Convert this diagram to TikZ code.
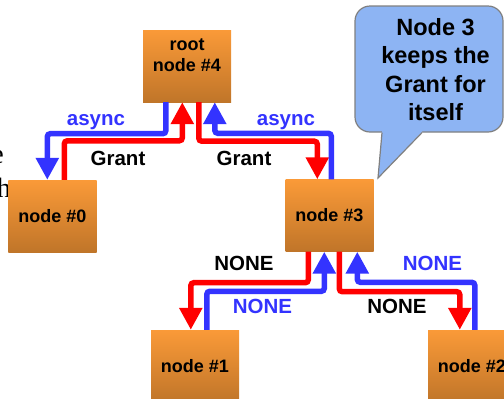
\documentclass[tikz,border=0pt]{standalone}
\usepackage{fontspec}
\setmainfont{Liberation Sans}
\newfontfamily\bgserif{Liberation Serif}
\usetikzlibrary{arrows.meta}
\definecolor{boxtop}{RGB}{250,154,56}
\definecolor{boxbot}{RGB}{192,117,41}
\definecolor{flowblue}{RGB}{51,51,255}
\definecolor{flowred}{RGB}{255,0,0}
\definecolor{notefill}{RGB}{141,180,243}
\definecolor{noteline}{RGB}{128,128,128}
\begin{document}
\begin{tikzpicture}[x=1bp,y=-1bp,
  boxtext/.style={font=\fontsize{18bp}{21bp}\selectfont\bfseries,align=center},
  procbox/.style={minimum width=88bp,minimum height=72bp,inner sep=0pt,
    top color=boxtop,bottom color=boxbot,boxtext},
  flow/.style={line width=5.5bp,rounded corners=3bp,
    -{Triangle[width=22bp,length=22bp]}},
  asyncflow/.style={flow,draw=flowblue},
  grantflow/.style={flow,draw=flowred},
  lbl/.style={font=\fontsize{20.5bp}{24bp}\selectfont\bfseries,anchor=base,inner sep=0pt},
  bgtext/.style={font=\bgserif\fontsize{28bp}{32bp}\selectfont,anchor=base east,inner sep=0pt},
]
\useasboundingbox (0,0) rectangle (504,398);
\clip (0,0) rectangle (504,398);

% text of the slide behind the diagram
\node[bgtext] (bga) at (4,163) {e};
\node[bgtext] (bgb) at (11,197) {h};

% processes
\node[procbox] (n4) at (187,66) {};
\node[boxtext,inner sep=0pt] (n4label) at (187,55.5) {root\\node \#4};
\node[procbox] (n0) at (52.5,216) {node \#0};
\node[procbox] (n3) at (329.5,215.5) {node \#3};
\node[procbox] (n1) at (195,366) {node \#1};
\node[procbox] (n2) at (472,366) {node \#2};

% root <-> node 0
\draw[asyncflow] ([xshift=23bp]n4.south west) -- ++(0,31.5) -| ([xshift=39bp]n0.north west);
\draw[grantflow] ([xshift=56bp]n0.north west) -- ++(0,-39) -| ([xshift=39.5bp]n4.south west);
% root <-> node 3
\draw[grantflow] ([xshift=56bp]n4.south west) -- ++(0,39) -| ([xshift=32bp]n3.north west);
\draw[asyncflow] ([xshift=46bp]n3.north west) -- ++(0,-46) -| ([xshift=72bp]n4.south west);
% node 3 <-> node 1
\draw[grantflow] ([xshift=23bp]n3.south west) -- ++(0,31) -| ([xshift=40bp]n1.north west);
\draw[asyncflow] ([xshift=56bp]n1.north west) -- ++(0,-38.5) -| ([xshift=39bp]n3.south west);
% node 3 <-> node 2
\draw[grantflow] ([xshift=54bp]n3.south west) -- ++(0,40) -| ([xshift=32bp]n2.north west);
\draw[asyncflow] ([xshift=47bp]n2.north west) -- ++(0,-47.5) -| ([xshift=72bp]n3.south west);

% flow labels
\node[lbl,text=flowblue] (a0) at (96,125) {async};
\node[lbl] (g0) at (118,165) {Grant};
\node[lbl] (g3) at (244,165) {Grant};
\node[lbl,text=flowblue] (a3) at (286,125) {async};
\node[lbl] (k1) at (244,270) {NONE};
\node[lbl,text=flowblue] (k2) at (262.5,313) {NONE};
\node[lbl,text=flowblue] (k3) at (432.5,270) {NONE};
\node[lbl] (k4) at (397,313) {NONE};

% speech bubble
\draw[draw=noteline,fill=notefill,line width=1.2bp,rounded corners=15bp] (355,6) rectangle (503,132);
\fill[notefill] (382,129) -- (382,132) -- (378,178) -- (422,132) -- (422,129) -- cycle;
\draw[noteline,line width=1.2bp,line join=miter] (382,132.6) -- (378,178) -- (422,132.6);
\node[font=\fontsize{23.5bp}{28.5bp}\selectfont\bfseries,align=center,anchor=north,inner sep=0pt]
  (note) at (435.5,18) {Node 3\\keeps the\\Grant for\\itself};
\end{tikzpicture}
\end{document}
